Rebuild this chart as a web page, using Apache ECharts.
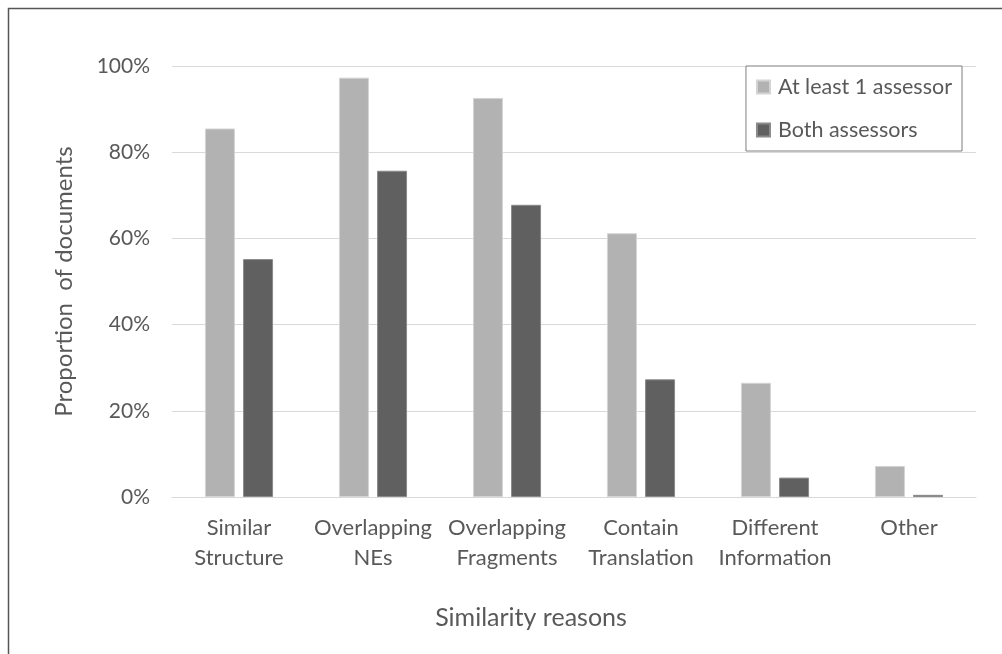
<!DOCTYPE html>
<html>
<head>
<meta charset="utf-8">
<script src="https://cdn.jsdelivr.net/npm/echarts@6/dist/echarts.min.js"></script>
<style>
  html, body { margin: 0; padding: 0; background: #fff; }
  #chart { width: 1002px; height: 654px; }
</style>
</head>
<body>
<div id="chart"></div>
<script>
const categories = ['Similar\nStructure', 'Overlapping\nNEs', 'Overlapping\nFragments', 'Contain\nTranslation', 'Different\nInformation', 'Other'];
const seriesNames = ['At least 1 assessor', 'Both assessors'];
const atLeastOne = [85.5, 97.3, 92.6, 61.2, 26.5, 7.2];
const bothAssessors = [55.2, 75.7, 67.8, 27.3, 4.5, 0.5];
const yTicks = [0, 20, 40, 60, 80, 100];

const FONT = 'Lato';
const TXT = '#595959';

const chart = echarts.init(document.getElementById('chart'), null, { renderer: 'canvas' });
chart.setOption({
  animation: false,
  backgroundColor: '#ffffff',
  graphic: [{
    type: 'rect',
    shape: { x: 8.5, y: 8.5, width: 1100, height: 800 },
    style: { fill: 'none', stroke: '#555555', lineWidth: 1.5 },
    silent: true, z: -1
  }],
  grid: { left: 172, right: 26, top: 66, bottom: 157, containLabel: false },
  legend: {
    orient: 'vertical',
    right: 40,
    top: 66,
    padding: [10, 10, 10, 10],
    itemGap: 21,
    itemWidth: 13,
    itemHeight: 13,
    icon: 'rect',
    backgroundColor: '#ffffff',
    borderColor: '#7f7f7f',
    borderWidth: 1,
    textStyle: { fontFamily: FONT, fontSize: 21.5, color: TXT, padding: [0, 0, 0, 3] },
    data: seriesNames
  },
  xAxis: {
    type: 'category',
    data: categories,
    name: 'Similarity reasons',
    nameLocation: 'middle',
    nameGap: 108,
    nameTextStyle: { fontFamily: FONT, fontSize: 25, color: TXT, padding: [0, 86, 0, 0] },
    axisLine: { lineStyle: { color: '#d9d9d9', width: 1 } },
    axisTick: { show: false },
    axisLabel: { fontFamily: FONT, fontSize: 22, color: TXT, lineHeight: 30, margin: 16, interval: 0 }
  },
  yAxis: {
    type: 'value',
    min: yTicks[0],
    max: yTicks[yTicks.length - 1],
    interval: 20,
    name: 'Proportion  of documents',
    nameLocation: 'middle',
    nameGap: 96,
    nameTextStyle: { fontFamily: FONT, fontSize: 24, color: TXT },
    axisLine: { show: false },
    axisTick: { show: false },
    axisLabel: { fontFamily: FONT, fontSize: 21, color: TXT, margin: 22, formatter: v => v + '%' },
    splitLine: { lineStyle: { color: '#d9d9d9', width: 1 } }
  },
  series: [
    {
      name: seriesNames[0], type: 'bar', data: atLeastOne,
      barWidth: 30, barGap: '27%',
      itemStyle: { color: '#b2b2b2', borderColor: '#d4d4d4', borderWidth: 1 }
    },
    {
      name: seriesNames[1], type: 'bar', data: bothAssessors,
      barWidth: 30, barGap: '27%',
      itemStyle: { color: '#606060', borderColor: '#8a8a8a', borderWidth: 1 }
    }
  ]
});
</script>
</body>
</html>
